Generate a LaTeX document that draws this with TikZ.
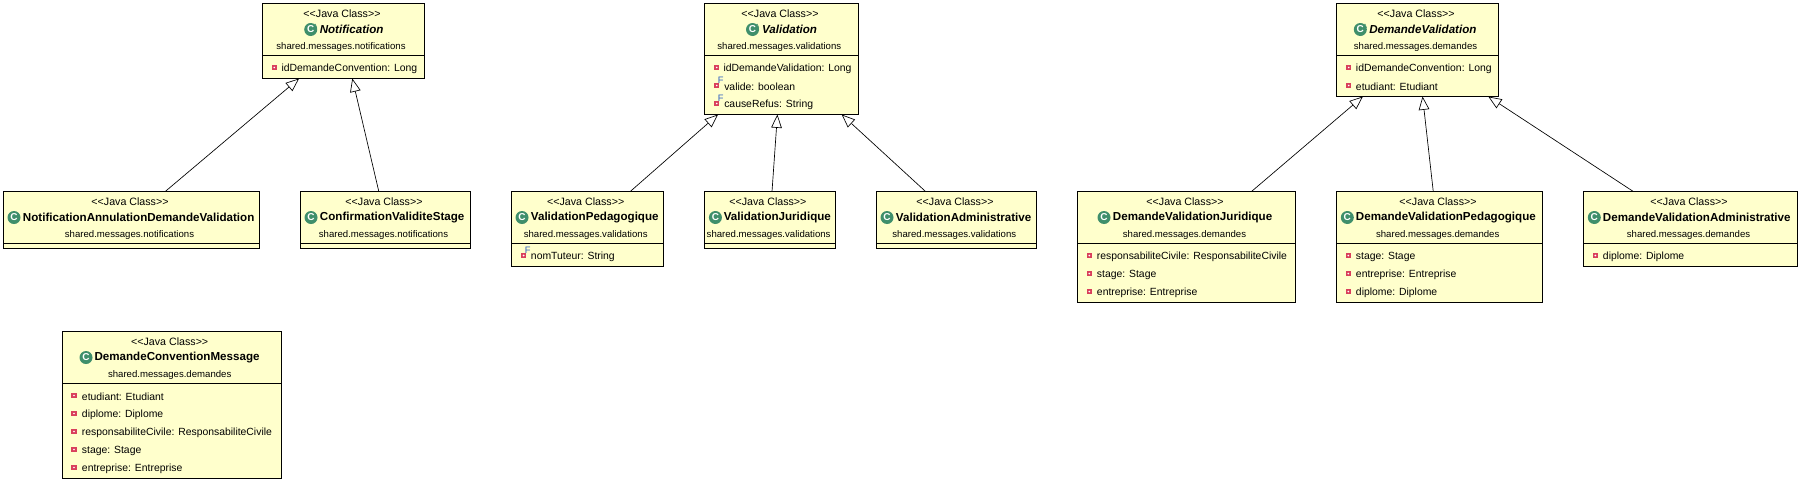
\documentclass[tikz,border=0pt]{standalone}
\usepackage{fontspec}
\setmainfont{Liberation Sans}
\usetikzlibrary{arrows.meta}
\definecolor{boxfill}{HTML}{FFFFCC}
\definecolor{icongreen}{HTML}{3F8F6B}
\definecolor{markred}{HTML}{D93F5C}
\definecolor{finalblue}{HTML}{2F5FC0}
\tikzset{
    classbox/.style={draw=black, fill=boxfill, line width=0.75pt, inner sep=0pt, outer sep=0pt},
    sepline/.style={black, line width=0.75pt},
    stereotype/.style={inner sep=0pt, yshift=-0.75pt, font=\fontsize{8}{8}\selectfont},
    pkgname/.style={inner sep=0pt, yshift=-1pt, font=\fontsize{7.2}{8}\selectfont},
    attrname/.style={inner sep=0pt, anchor=west, yshift=-0.75pt, font=\fontsize{7.8}{8}\selectfont},
    classname/.style={inner sep=0pt, anchor=west, font=\fontsize{8.7}{9}\selectfont\bfseries},
    abstractname/.style={classname, font=\fontsize{8.7}{9}\selectfont\bfseries\itshape},
    classicon/.style={circle, fill=icongreen, text=white, inner sep=0pt, minimum size=9.75pt, font=\fontsize{7.5}{7.5}\selectfont\bfseries},
    abstractmark/.style={inner sep=0pt, text=icongreen, font=\fontsize{4.5}{4.5}\selectfont\bfseries},
    privmark/.style={fill=markred, inner sep=0pt, minimum size=4pt,
        path picture={\fill[white] (path picture bounding box.center) circle (0.7pt);}},
    finalmark/.style={inner sep=0pt, text=finalblue, font=\fontsize{7}{7}\selectfont},
    generalization/.style={-{Triangle[open, fill=white, length=10pt, width=8pt]}, line width=0.5pt},
}
\begin{document}
\begin{tikzpicture}[x=0.75pt, y=-0.75pt]
    \useasboundingbox (0,0) rectangle (1801,482);
    % notifications
    \node[classbox, minimum width=121.5pt, minimum height=56.25pt] (notif) at (343.5,41) {};
    \draw[sepline] (notif.west |- 0,55.5) -- (notif.east |- 0,55.5);
    \node[stereotype] (notifStereo) at (342,13) {<{}<Java Class>{}>};
    \node[classicon] (notifIcon) at (310.7,29.5) {C};
    \node[abstractmark] (notifAbs) at (315.4,26) {A};
    \node[abstractname] (notifName) at (319.5,29.5) {Notification};
    \node[pkgname] (notifPkg) at (341,45.5) {shared.messages.notifications};
    \node[privmark] (notifMarkA) at (274.3,67.5) {};
    \node[attrname] (notifAttrA) at (281.3,67.5) {idDemandeConvention: Long};

    \node[classbox, minimum width=192pt, minimum height=42.75pt] (annul) at (131.5,220) {};
    \draw[sepline] (annul.west |- 0,243.5) -- (annul.east |- 0,243.5);
    \node[stereotype] (annulStereo) at (130,201) {<{}<Java Class>{}>};
    \node[classicon] (annulIcon) at (14,217.5) {C};
    \node[classname] (annulName) at (22.7,217.5) {NotificationAnnulationDemandeValidation};
    \node[pkgname] (annulPkg) at (129.5,234) {shared.messages.notifications};

    \node[classbox, minimum width=127.5pt, minimum height=42.75pt] (confirm) at (385.5,220) {};
    \draw[sepline] (confirm.west |- 0,243.5) -- (confirm.east |- 0,243.5);
    \node[stereotype] (confirmStereo) at (384,201) {<{}<Java Class>{}>};
    \node[classicon] (confirmIcon) at (311,217.5) {C};
    \node[classname] (confirmName) at (319.7,217.5) {ConfirmationValiditeStage};
    \node[pkgname] (confirmPkg) at (383.5,234) {shared.messages.notifications};

    \draw[generalization] (annul) -- (notif);
    \draw[generalization] (confirm) -- (notif);

    % validations
    \node[classbox, minimum width=115.5pt, minimum height=83.25pt] (valid) at (781.3,59) {};
    \draw[sepline] (valid.west |- 0,55.5) -- (valid.east |- 0,55.5);
    \node[stereotype] (validStereo) at (780,13) {<{}<Java Class>{}>};
    \node[classicon] (validIcon) at (752.5,29.5) {C};
    \node[abstractmark] (validAbs) at (757.2,26) {A};
    \node[abstractname] (validName) at (761.8,29.5) {Validation};
    \node[pkgname] (validPkg) at (779.3,45.5) {shared.messages.validations};
    \node[privmark] (validMarkA) at (716.7,67.5) {};
    \node[attrname] (validAttrA) at (723.3,67.5) {idDemandeValidation: Long};
    \node[privmark] (validMarkB) at (716.7,85.5) {};
    \node[finalmark] (validFinalB) at (720.7,80) {F};
    \node[attrname] (validAttrB) at (724,85.5) {valide: boolean};
    \node[privmark] (validMarkC) at (716.7,103.5) {};
    \node[finalmark] (validFinalC) at (720.7,98) {F};
    \node[attrname] (validAttrC) at (724,103.5) {causeRefus: String};

    \node[classbox, minimum width=114.2pt, minimum height=56.25pt] (vped) at (587.5,229) {};
    \draw[sepline] (vped.west |- 0,243.5) -- (vped.east |- 0,243.5);
    \node[stereotype] (vpedStereo) at (585.7,201) {<{}<Java Class>{}>};
    \node[classicon] (vpedIcon) at (522,217.5) {C};
    \node[classname] (vpedName) at (530.7,217.5) {ValidationPedagogique};
    \node[pkgname] (vpedPkg) at (585.7,234) {shared.messages.validations};
    \node[privmark] (vpedMarkA) at (523.6,255.5) {};
    \node[finalmark] (vpedFinalA) at (527.6,250) {F};
    \node[attrname] (vpedAttrA) at (530.7,255.5) {nomTuteur: String};

    \node[classbox, minimum width=98.6pt, minimum height=42.75pt] (vjur) at (770,220) {};
    \draw[sepline] (vjur.west |- 0,243.5) -- (vjur.east |- 0,243.5);
    \node[stereotype] (vjurStereo) at (767.9,201) {<{}<Java Class>{}>};
    \node[classicon] (vjurIcon) at (715.4,217.5) {C};
    \node[classname] (vjurName) at (723.6,217.5) {ValidationJuridique};
    \node[pkgname] (vjurPkg) at (768.6,234) {shared.messages.validations};

    \node[classbox, minimum width=120.3pt, minimum height=42.75pt] (vadm) at (956.6,220) {};
    \draw[sepline] (vadm.west |- 0,243.5) -- (vadm.east |- 0,243.5);
    \node[stereotype] (vadmStereo) at (955,201) {<{}<Java Class>{}>};
    \node[classicon] (vadmIcon) at (887,217.5) {C};
    \node[classname] (vadmName) at (895.7,217.5) {ValidationAdministrative};
    \node[pkgname] (vadmPkg) at (954.3,234) {shared.messages.validations};

    \draw[generalization] (vped) -- (valid);
    \draw[generalization] (vjur) -- (valid);
    \draw[generalization] (vadm) -- (valid);

    % demandes
    \node[classbox, minimum width=121.5pt, minimum height=69.75pt] (dem) at (1417.3,50) {};
    \draw[sepline] (dem.west |- 0,55.5) -- (dem.east |- 0,55.5);
    \node[stereotype] (demStereo) at (1416,13) {<{}<Java Class>{}>};
    \node[classicon] (demIcon) at (1360.3,29.5) {C};
    \node[abstractmark] (demAbs) at (1365,26) {A};
    \node[abstractname] (demName) at (1369,29.5) {DemandeValidation};
    \node[pkgname] (demPkg) at (1415.5,45.5) {shared.messages.demandes};
    \node[privmark] (demMarkA) at (1348.7,67.5) {};
    \node[attrname] (demAttrA) at (1355.7,67.5) {idDemandeConvention: Long};
    \node[privmark] (demMarkB) at (1348.7,85.5) {};
    \node[attrname] (demAttrB) at (1355.7,85.5) {etudiant: Etudiant};

    \node[classbox, minimum width=163.8pt, minimum height=83.25pt] (djur) at (1186.5,247) {};
    \draw[sepline] (djur.west |- 0,243.5) -- (djur.east |- 0,243.5);
    \node[stereotype] (djurStereo) at (1185,201) {<{}<Java Class>{}>};
    \node[classicon] (djurIcon) at (1104,217.5) {C};
    \node[classname] (djurName) at (1112.7,217.5) {DemandeValidationJuridique};
    \node[pkgname] (djurPkg) at (1184.5,234) {shared.messages.demandes};
    \node[privmark] (djurMarkA) at (1089.3,255.5) {};
    \node[attrname] (djurAttrA) at (1096.7,255.5) {responsabiliteCivile: ResponsabiliteCivile};
    \node[privmark] (djurMarkB) at (1089.3,273.5) {};
    \node[attrname] (djurAttrB) at (1096.7,273.5) {stage: Stage};
    \node[privmark] (djurMarkC) at (1089.3,291.5) {};
    \node[attrname] (djurAttrC) at (1096.7,291.5) {entreprise: Entreprise};

    \node[classbox, minimum width=154.8pt, minimum height=83.25pt] (dped) at (1439.5,247) {};
    \draw[sepline] (dped.west |- 0,243.5) -- (dped.east |- 0,243.5);
    \node[stereotype] (dpedStereo) at (1438,201) {<{}<Java Class>{}>};
    \node[classicon] (dpedIcon) at (1347.3,217.5) {C};
    \node[classname] (dpedName) at (1355.7,217.5) {DemandeValidationPedagogique};
    \node[pkgname] (dpedPkg) at (1437.7,234) {shared.messages.demandes};
    \node[privmark] (dpedMarkA) at (1348.3,255.5) {};
    \node[attrname] (dpedAttrA) at (1355.7,255.5) {stage: Stage};
    \node[privmark] (dpedMarkB) at (1348.3,273.5) {};
    \node[attrname] (dpedAttrB) at (1355.7,273.5) {entreprise: Entreprise};
    \node[privmark] (dpedMarkC) at (1348.3,291.5) {};
    \node[attrname] (dpedAttrC) at (1355.7,291.5) {diplome: Diplome};

    \node[classbox, minimum width=160.8pt, minimum height=56.25pt] (dadm) at (1690.5,229) {};
    \draw[sepline] (dadm.west |- 0,243.5) -- (dadm.east |- 0,243.5);
    \node[stereotype] (dadmStereo) at (1689,201) {<{}<Java Class>{}>};
    \node[classicon] (dadmIcon) at (1594.3,217.5) {C};
    \node[classname] (dadmName) at (1602.7,217.5) {DemandeValidationAdministrative};
    \node[pkgname] (dadmPkg) at (1688.5,234) {shared.messages.demandes};
    \node[privmark] (dadmMarkA) at (1595.3,255.5) {};
    \node[attrname] (dadmAttrA) at (1602.7,255.5) {diplome: Diplome};

    \draw[generalization] (djur) -- (dem);
    \draw[generalization] (dped) -- (dem);
    \draw[generalization] (dadm) -- (dem);

    % message seul
    \node[classbox, minimum width=164.25pt, minimum height=110.25pt] (dcm) at (171.5,405) {};
    \draw[sepline] (dcm.west |- 0,383.5) -- (dcm.east |- 0,383.5);
    \node[stereotype] (dcmStereo) at (169.7,341) {<{}<Java Class>{}>};
    \node[classicon] (dcmIcon) at (86,357.5) {C};
    \node[classname] (dcmName) at (94.3,357.5) {DemandeConventionMessage};
    \node[pkgname] (dcmPkg) at (169.7,374) {shared.messages.demandes};
    \node[privmark] (dcmMarkA) at (74,395.5) {};
    \node[attrname] (dcmAttrA) at (81.7,395.5) {etudiant: Etudiant};
    \node[privmark] (dcmMarkB) at (74,413.5) {};
    \node[attrname] (dcmAttrB) at (81.7,413.5) {diplome: Diplome};
    \node[privmark] (dcmMarkC) at (74,431.5) {};
    \node[attrname] (dcmAttrC) at (81.7,431.5) {responsabiliteCivile: ResponsabiliteCivile};
    \node[privmark] (dcmMarkD) at (74,449.5) {};
    \node[attrname] (dcmAttrD) at (81.7,449.5) {stage: Stage};
    \node[privmark] (dcmMarkE) at (74,467.5) {};
    \node[attrname] (dcmAttrE) at (81.7,467.5) {entreprise: Entreprise};
\end{tikzpicture}
\end{document}
